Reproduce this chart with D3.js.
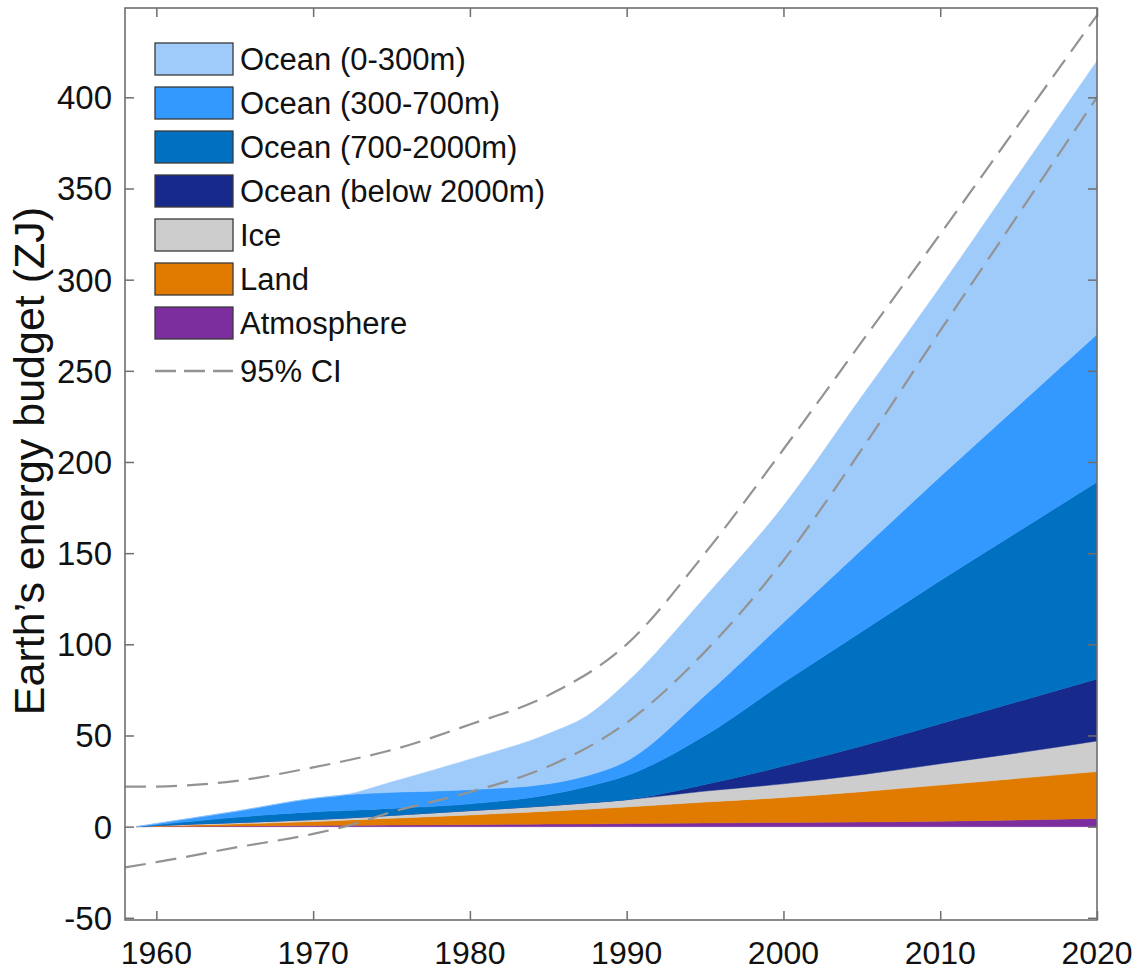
<!DOCTYPE html>
<html>
<head>
<meta charset="utf-8">
<script src="https://cdn.jsdelivr.net/npm/d3@7"></script>
<style>
  html, body { margin: 0; padding: 0; background: #fff; }
  svg { display: block; }
  text { font-family: "Liberation Sans", Arial, Helvetica, sans-serif; fill: #111; }
</style>
</head>
<body>
<svg id="chart" width="1139" height="972"></svg>
<script>
// ---------- data ----------
const years        = [1958.75, 1960, 1965, 1970, 1972, 1975, 1980, 1985, 1987.5, 1990, 1995, 2000, 2005, 2010, 2015, 2020];
const atmosphere   = [0, 0.1, 0.3, 0.6, 0.7, 0.9, 1.1, 1.4, 1.5, 1.7, 2.0, 2.3, 2.6, 3.0, 3.7, 4.5];
const land         = [0, 0.3, 1.2, 2.2, 2.8, 3.7, 5.3, 7.1, 8.1, 9.1, 11.5, 13.7, 16.6, 19.8, 22.8, 25.7];
const ice          = [0, 0.2, 0.7, 1.1, 1.2, 1.6, 2.4, 3.0, 3.5, 4.0, 6.0, 7.5, 9.3, 11.7, 14.0, 16.8];
const oceanDeep    = [0, 0, 0, 0, 0, 0, 0, 0, 0, 0, 3.6, 9.7, 15.8, 21.9, 28.2, 34.0];
const ocean7002000 = [0, 0.4, 2.9, 4.2, 4.1, 3.8, 3.7, 6.0, 8.9, 13.2, 26.9, 45.8, 62.7, 78.6, 93.3, 108];
const ocean300700  = [0, 0.7, 3.2, 7.4, 8.6, 8.8, 7.8, 6.0, 6.0, 8.0, 22, 33, 45, 57, 69, 81];
const ocean0300    = [0, 0, 0, 0, 0, 5.7, 16.7, 27.5, 33, 43, 54, 64, 84, 104, 127, 150];

const ciYears = [1958, 1960, 1965, 1970, 1972, 1975, 1980, 1985, 1990, 1995, 2000, 2005, 2010, 2015, 2020];
const ciUpper = [21.9, 22, 25, 32.5, 36, 42, 56, 72, 100, 150, 207, 266, 325, 385, 445];
const ciLower = [-22.3, -19.5, -11.5, -4, 0, 8, 19, 33, 57, 96, 146, 207, 272, 336, 400];

const seriesKeys   = ["atmosphere", "land", "ice", "oceanDeep", "ocean7002000", "ocean300700", "ocean0300"];
const seriesLabels = {
  ocean0300: "Ocean (0-300m)", ocean300700: "Ocean (300-700m)", ocean7002000: "Ocean (700-2000m)",
  oceanDeep: "Ocean (below 2000m)", ice: "Ice", land: "Land", atmosphere: "Atmosphere"
};
const legendOrder = ["ocean0300", "ocean300700", "ocean7002000", "oceanDeep", "ice", "land", "atmosphere"];
const ciLabel = "95% CI";
const yTicks = [-50, 0, 50, 100, 150, 200, 250, 300, 350, 400];
const xTicks = [1960, 1970, 1980, 1990, 2000, 2010, 2020];
const yLabel = "Earth\u2019s energy budget (ZJ)";

// ---------- styles ----------
const colors = {
  ocean0300: "#9fcbfa", ocean300700: "#3399fe", ocean7002000: "#0070c0",
  oceanDeep: "#172a8c", ice: "#cdcdcd", land: "#e07b00", atmosphere: "#7d2e9e"
};

const svg = d3.select("#chart");
const L = 125, R = 1097, T = 8, B = 920;

const x = d3.scaleLinear().domain([1958, 2020]).range([L, R]);
const y = d3.scaleLinear().domain([-51.2, 449]).range([B, T]);

const table = years.map((yr, i) => ({
  year: yr, atmosphere: atmosphere[i], land: land[i], ice: ice[i], oceanDeep: oceanDeep[i],
  ocean7002000: ocean7002000[i], ocean300700: ocean300700[i], ocean0300: ocean0300[i]
}));
const stacked = d3.stack().keys(seriesKeys)(table);

svg.append("defs").append("clipPath").attr("id", "plotclip")
  .append("rect").attr("x", L).attr("y", T).attr("width", R - L).attr("height", B - T);

const plot = svg.append("g").attr("clip-path", "url(#plotclip)");

const area = d3.area()
  .x(d => x(d.data.year))
  .y0(d => y(d[0]))
  .y1(d => y(d[1]))
  .curve(d3.curveMonotoneX);

plot.selectAll("path.layer").data(stacked).join("path")
  .attr("class", "layer")
  .attr("d", area)
  .attr("fill", d => colors[d.key])
  .attr("stroke", d => colors[d.key])
  .attr("stroke-width", 0.5);

const ciLine = d3.line().x(d => x(d[0])).y(d => y(d[1])).curve(d3.curveMonotoneX);
[ciUpper, ciLower].forEach(arr => {
  plot.append("path")
    .attr("d", ciLine(ciYears.map((yr, i) => [yr, arr[i]])))
    .attr("fill", "none").attr("stroke", "#939393").attr("stroke-width", 2.2)
    .attr("stroke-dasharray", "21,10");
});

// ---------- axes (inner ticks on all sides, MATLAB style) ----------
const axisColor = "#6e6e6e";
const tickLen = 9;
const gAxL = svg.append("g").attr("transform", `translate(${L},0)`)
  .call(d3.axisRight(y).tickValues(yTicks).tickSize(tickLen).tickFormat(""));
const gAxR = svg.append("g").attr("transform", `translate(${R},0)`)
  .call(d3.axisLeft(y).tickValues(yTicks).tickSize(tickLen).tickFormat(""));
const gAxB = svg.append("g").attr("transform", `translate(0,${B})`)
  .call(d3.axisTop(x).tickValues(xTicks).tickSize(tickLen).tickFormat(""));
const gAxT = svg.append("g").attr("transform", `translate(0,${T})`)
  .call(d3.axisBottom(x).tickValues(xTicks).tickSize(tickLen).tickFormat(""));
[gAxL, gAxR, gAxB, gAxT].forEach(g => {
  g.select(".domain").remove();
  g.selectAll("line").attr("stroke", axisColor).attr("stroke-width", 1.5);
});
svg.append("rect").attr("x", L).attr("y", T).attr("width", R - L).attr("height", B - T)
  .attr("fill", "none").attr("stroke", axisColor).attr("stroke-width", 1.6);

// tick labels
svg.append("g").selectAll("text").data(yTicks).join("text")
  .attr("x", L - 13).attr("y", d => y(d)).attr("dy", "0.36em")
  .attr("text-anchor", "end").attr("font-size", 33).text(d => d);
svg.append("g").selectAll("text").data(xTicks).join("text")
  .attr("x", d => x(d)).attr("y", 964)
  .attr("text-anchor", "middle").attr("font-size", 32).text(d => d);

svg.append("text")
  .attr("transform", `translate(44,461) rotate(-90)`)
  .attr("text-anchor", "middle").attr("font-size", 43).text(yLabel);

// ---------- legend ----------
const lg = svg.append("g");
const lgX = 155, lgY0 = 43, lgStep = 44, swW = 78, swH = 32;
legendOrder.forEach((k, i) => {
  const yy = lgY0 + i * lgStep;
  lg.append("rect").attr("x", lgX).attr("y", yy).attr("width", swW).attr("height", swH)
    .attr("fill", colors[k]).attr("stroke", "#3a3a3a").attr("stroke-width", 1.3);
  lg.append("text").attr("x", lgX + swW + 7).attr("y", yy + swH / 2).attr("dy", "0.36em")
    .attr("font-size", 31).text(seriesLabels[k]);
});
const ciY = lgY0 + 7 * lgStep + 20;
lg.append("line").attr("x1", lgX).attr("x2", lgX + swW).attr("y1", ciY).attr("y2", ciY)
  .attr("stroke", "#939393").attr("stroke-width", 2.5).attr("stroke-dasharray", "21,8");
lg.append("text").attr("x", lgX + swW + 7).attr("y", ciY).attr("dy", "0.36em")
  .attr("font-size", 31).text(ciLabel);
</script>
</body>
</html>
